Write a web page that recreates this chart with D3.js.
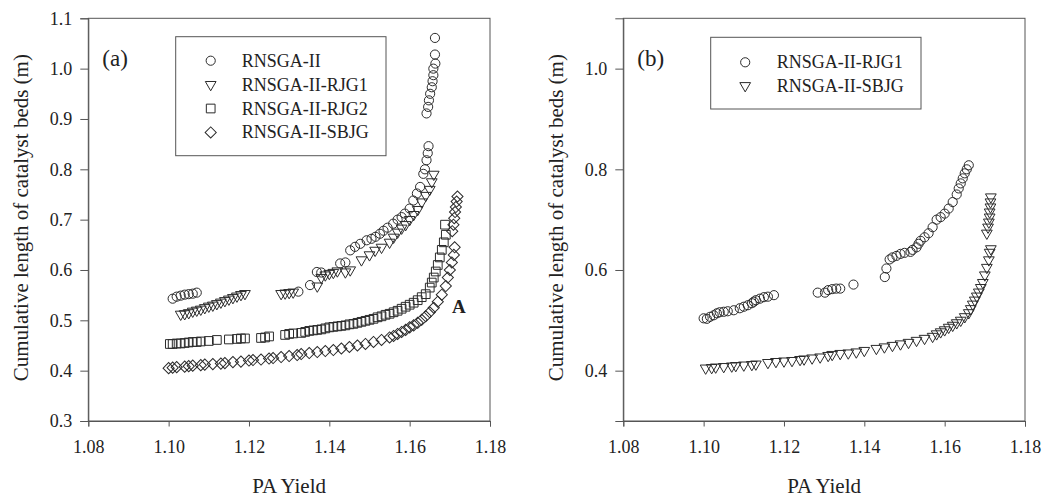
<!DOCTYPE html>
<html>
<head>
<meta charset="utf-8">
<script src="https://cdn.jsdelivr.net/npm/d3@7/dist/d3.min.js"></script>
<style>
  html, body { margin: 0; padding: 0; background: #fff; }
</style>
</head>
<body>
<svg id="chart" width="1042" height="497"></svg>
<script>
// ---------------- DATA ----------------
const xTicks = [1.08, 1.10, 1.12, 1.14, 1.16, 1.18];
const yTicksA = [0.3, 0.4, 0.5, 0.6, 0.7, 0.8, 0.9, 1.0, 1.1];
const yTicksB = [0.4, 0.6, 0.8, 1.0];
const xLabel = "PA Yield";
const yLabel = "Cumulative length of catalyst beds (m)";

// Panel (a)
const aRNSGA_x = [1.101,1.102,1.103,1.104,1.105,1.106,1.107,
  1.1323,1.1352,1.1369,1.138,
  1.1427,1.1440,1.1452,1.1464,1.1477,1.1493,1.1505,1.1515,1.1526,1.1535,1.1545,1.1559,1.157,1.158,1.1588,1.160,1.1609,1.1618,1.1626,1.1634,1.1638,1.1642,1.1645,1.1647,
  1.1642,1.1646,1.1648,1.1651,1.1655,1.1657,1.1659,1.1659,1.1664,1.1663,1.1663];
const aRNSGA_y = [0.543,0.547,0.549,0.551,0.552,0.553,0.555,
  0.557,0.570,0.596,0.595,
  0.613,0.615,0.639,0.646,0.652,0.659,0.662,0.666,0.672,0.678,0.684,0.692,0.700,0.705,0.712,0.722,0.738,0.752,0.765,0.791,0.800,0.818,0.832,0.846,
  0.911,0.924,0.937,0.950,0.963,0.975,0.987,1.000,1.010,1.028,1.061];

const aRJG1_x = [1.103,1.104,1.105,1.106,1.107,1.108,1.109,1.110,1.111,1.112,1.113,1.114,1.115,1.116,1.117,1.118,1.119,
  1.128,1.129,1.130,1.131,
  1.137,1.138,1.139,1.140,1.141,1.142,1.144,1.1452,1.148,1.150,1.1514,1.153,1.155,1.156,1.157,1.158,1.159,1.160,1.161,1.162,1.163,1.164,1.165,1.1655,1.166];
const aRJG1_y = [0.512,0.513,0.515,0.518,0.520,0.522,0.525,0.528,0.530,0.533,0.536,0.539,0.542,0.545,0.548,0.551,0.553,
  0.553,0.554,0.555,0.556,
  0.568,0.585,0.590,0.593,0.595,0.598,0.596,0.600,0.620,0.630,0.639,0.645,0.655,0.665,0.675,0.683,0.690,0.700,0.710,0.720,0.735,0.748,0.760,0.775,0.790];

const aRJG2_x = [1.1003,1.101,1.102,1.103,1.104,1.105,1.106,1.107,1.108,1.110,1.112,1.115,1.117,1.118,1.119,1.123,1.124,1.125,1.129,1.130,1.131,1.133,1.134,1.135,1.136,1.137,1.138,1.139,1.140,1.141,1.142,1.143,1.144,1.145,1.146,1.147,1.148,1.149,1.150,1.151,1.152,1.153,1.154,1.155,1.156,1.157,1.158,1.159,1.160,1.161,1.162,1.163,1.164,1.165,1.1655,1.166,1.1665,1.167,1.1675,1.168,1.1685,1.169,1.1688];
const aRJG2_y = [0.453,0.453,0.454,0.454,0.455,0.456,0.457,0.457,0.458,0.459,0.461,0.462,0.463,0.464,0.464,0.465,0.466,0.468,0.471,0.473,0.474,0.475,0.477,0.479,0.480,0.481,0.482,0.484,0.486,0.487,0.488,0.489,0.490,0.492,0.493,0.495,0.497,0.499,0.501,0.503,0.506,0.508,0.511,0.513,0.516,0.519,0.523,0.527,0.531,0.535,0.540,0.546,0.552,0.565,0.575,0.585,0.597,0.610,0.625,0.640,0.655,0.670,0.690];

const aSBJG_x = [1.100,1.101,1.102,1.104,1.105,1.106,1.108,1.109,1.111,1.113,1.114,1.116,1.118,1.120,1.121,1.123,1.125,1.126,1.128,1.130,1.132,1.133,1.135,1.137,1.139,1.141,1.143,1.145,1.147,1.149,1.151,1.153,1.155,1.156,1.157,1.158,1.159,1.160,1.161,1.162,1.163,1.164,1.165,1.166,1.167,1.168,1.169,1.1695,1.170,1.1705,1.171,1.1712,
  1.1706,1.1709,1.1711,1.1713,1.1715,1.1717,1.1719];
const aSBJG_y = [0.405,0.406,0.407,0.408,0.409,0.410,0.411,0.412,0.413,0.414,0.415,0.417,0.418,0.420,0.421,0.422,0.424,0.425,0.427,0.429,0.431,0.433,0.435,0.437,0.439,0.441,0.444,0.447,0.450,0.453,0.457,0.461,0.466,0.469,0.473,0.477,0.481,0.486,0.490,0.495,0.501,0.508,0.516,0.525,0.537,0.551,0.568,0.585,0.600,0.615,0.630,0.645,
  0.677,0.690,0.703,0.715,0.725,0.736,0.746];

// Panel (b)
const bRJG1_x = [1.1000,1.1008,1.1016,1.1025,1.1033,1.104,1.105,1.106,1.1075,1.109,1.110,1.111,1.112,1.1125,1.113,1.114,1.115,1.116,1.1175,
  1.1284,1.1302,1.131,1.132,1.133,1.134,1.1373,
  1.1451,1.1455,1.1463,1.147,1.148,1.149,1.150,1.1515,1.152,1.153,1.1535,1.154,1.155,1.156,1.157,1.158,1.159,1.160,1.161,1.162,1.163,1.1635,1.164,1.1645,1.165,1.1655,1.166];
const bRJG1_y = [0.504,0.503,0.507,0.510,0.514,0.516,0.517,0.518,0.520,0.524,0.527,0.530,0.534,0.537,0.540,0.543,0.546,0.547,0.550,
  0.555,0.555,0.560,0.562,0.563,0.563,0.571,
  0.586,0.603,0.621,0.625,0.628,0.632,0.634,0.636,0.640,0.645,0.652,0.658,0.665,0.673,0.685,0.700,0.705,0.712,0.722,0.735,0.750,0.762,0.772,0.782,0.792,0.800,0.808];

const bSBJG_x = [1.1005,1.102,1.103,1.105,1.107,1.108,1.110,1.112,1.113,1.116,1.118,1.120,1.122,1.124,1.125,1.127,1.129,1.131,1.132,1.134,1.136,1.138,1.140,1.143,1.145,1.147,1.149,1.151,1.153,1.155,1.157,1.158,1.159,1.160,1.161,1.162,1.163,1.164,1.165,1.166,1.1665,1.167,1.1675,1.168,1.1685,1.169,1.1695,1.170,1.1705,1.171,1.1712,1.1715,
  1.1705,1.1708,1.1710,1.1712,1.1712,1.1714,1.1714,1.1715];
const bSBJG_y = [0.405,0.406,0.407,0.408,0.409,0.410,0.411,0.412,0.413,0.416,0.418,0.419,0.420,0.422,0.423,0.425,0.427,0.430,0.432,0.434,0.435,0.437,0.440,0.444,0.447,0.450,0.453,0.456,0.460,0.464,0.468,0.473,0.477,0.481,0.486,0.490,0.495,0.500,0.507,0.515,0.523,0.532,0.540,0.548,0.556,0.565,0.575,0.590,0.605,0.620,0.635,0.642,
  0.673,0.685,0.695,0.705,0.715,0.725,0.735,0.745];

const legendA = ["RNSGA-II", "RNSGA-II-RJG1", "RNSGA-II-RJG2", "RNSGA-II-SBJG"];
const legendB = ["RNSGA-II-RJG1", "RNSGA-II-SBJG"];

// ---------------- DRAW ----------------
const FONT = "'Liberation Serif', 'Times New Roman', Times, serif";
const svg = d3.select("#chart");
const stroke = "#2b2b2b";
const axisColor = "#555";

const symbols = {
  circle:   { gen: d3.symbol(d3.symbolCircle, 66), rot: 0 },
  triangle: { gen: d3.symbol(d3.symbolTriangle, 50), rot: 180 },
  square:   { gen: d3.symbol(d3.symbolSquare, 76), rot: 0 },
  diamond:  { gen: d3.symbol(d3.symbolSquare, 62), rot: 45 }
};

function zip(xs, ys) { return xs.map((x, i) => ({ x, y: ys[i] })); }

function txt(sel, size) {
  return sel.attr("font-family", FONT).style("font-family", FONT)
    .style("font-size", size + "px").attr("fill", "#222");
}

function drawPanel(cfg) {
  const x = d3.scaleLinear().domain([1.08, 1.18]).range([cfg.left, cfg.right]);
  const y = d3.scaleLinear().domain([0.3, 1.1]).range([cfg.bottom, cfg.top]);
  const g = svg.append("g");

  g.append("rect")
    .attr("x", cfg.left).attr("y", cfg.top)
    .attr("width", cfg.right - cfg.left).attr("height", cfg.bottom - cfg.top)
    .attr("fill", "none").attr("stroke", axisColor).attr("stroke-width", 1);

  const xa = g.append("g").attr("transform", `translate(0,${cfg.bottom})`)
    .call(d3.axisBottom(x).tickValues(xTicks).tickFormat(d3.format(".2f")).tickSize(5.5).tickPadding(13.5));
  xa.attr("font-family", FONT);
  xa.select(".domain").attr("stroke", axisColor);
  xa.selectAll(".tick line").attr("stroke", axisColor);
  txt(xa.selectAll("text"), 18);

  const ya = g.append("g").attr("transform", `translate(${cfg.left},0)`)
    .call(d3.axisLeft(y).tickValues(cfg.yTicks).tickFormat(d3.format(".1f")).tickSize(8).tickPadding(8));
  ya.attr("font-family", FONT);
  ya.select(".domain").attr("stroke", axisColor);
  ya.selectAll(".tick line").attr("stroke", axisColor);
  txt(ya.selectAll("text"), 18);

  txt(g.append("text")
    .attr("x", (cfg.left + cfg.right) / 2).attr("y", 493)
    .attr("text-anchor", "middle"), 21).text(xLabel);
  txt(g.append("text")
    .attr("transform", `translate(${cfg.left - 60},${(cfg.top + cfg.bottom) / 2 - 2}) rotate(-90)`)
    .attr("text-anchor", "middle"), 21).text(yLabel);

  txt(g.append("text").attr("x", cfg.left + 14).attr("y", 66), 23).text(cfg.tag);

  cfg.series.forEach(s => {
    const sym = symbols[s.shape];
    g.append("g").selectAll("path").data(zip(s.xs, s.ys)).join("path")
      .attr("d", sym.gen())
      .attr("transform", d => `translate(${x(d.x)},${y(d.y)}) rotate(${sym.rot})`)
      .attr("fill", "none").attr("stroke", stroke).attr("stroke-width", 1);
  });

  const L = cfg.legend;
  g.append("rect").attr("x", L.x).attr("y", L.y).attr("width", L.w).attr("height", L.h)
    .attr("fill", "#fff").attr("stroke", axisColor).attr("stroke-width", 1);
  L.items.forEach((it, i) => {
    const by = L.y + L.first + i * L.step;
    const sym = symbols[it.shape];
    g.append("path").attr("d", sym.gen())
      .attr("transform", `translate(${L.x + L.symDx},${by - 6}) rotate(${sym.rot})`)
      .attr("fill", "none").attr("stroke", stroke).attr("stroke-width", 1);
    txt(g.append("text").attr("x", L.x + L.textDx).attr("y", by), 18).text(it.label);
  });

  return { x, y, g };
}

const pa = drawPanel({
  left: 88.3, right: 490, top: 18.3, bottom: 421, yTicks: yTicksA, tag: "(a)",
  series: [
    { xs: aRNSGA_x, ys: aRNSGA_y, shape: "circle" },
    { xs: aRJG1_x, ys: aRJG1_y, shape: "triangle" },
    { xs: aRJG2_x, ys: aRJG2_y, shape: "square" },
    { xs: aSBJG_x, ys: aSBJG_y, shape: "diamond" }
  ],
  legend: { x: 175.7, y: 36.7, w: 210.3, h: 119, first: 30, step: 23.9, symDx: 35, textDx: 66,
    items: [
      { shape: "circle", label: legendA[0] },
      { shape: "triangle", label: legendA[1] },
      { shape: "square", label: legendA[2] },
      { shape: "diamond", label: legendA[3] }
    ] }
});

txt(pa.g.append("text").attr("x", 452).attr("y", 313), 19)
  .style("font-weight", "bold").text("A");

drawPanel({
  left: 623.3, right: 1025, top: 18.3, bottom: 421, yTicks: yTicksB, tag: "(b)",
  series: [
    { xs: bRJG1_x, ys: bRJG1_y, shape: "circle" },
    { xs: bSBJG_x, ys: bSBJG_y, shape: "triangle" }
  ],
  legend: { x: 710.7, y: 37.3, w: 210.3, h: 71.7, first: 31, step: 23.4, symDx: 34.5, textDx: 66,
    items: [
      { shape: "circle", label: legendB[0] },
      { shape: "triangle", label: legendB[1] }
    ] }
});
</script>
</body>
</html>
